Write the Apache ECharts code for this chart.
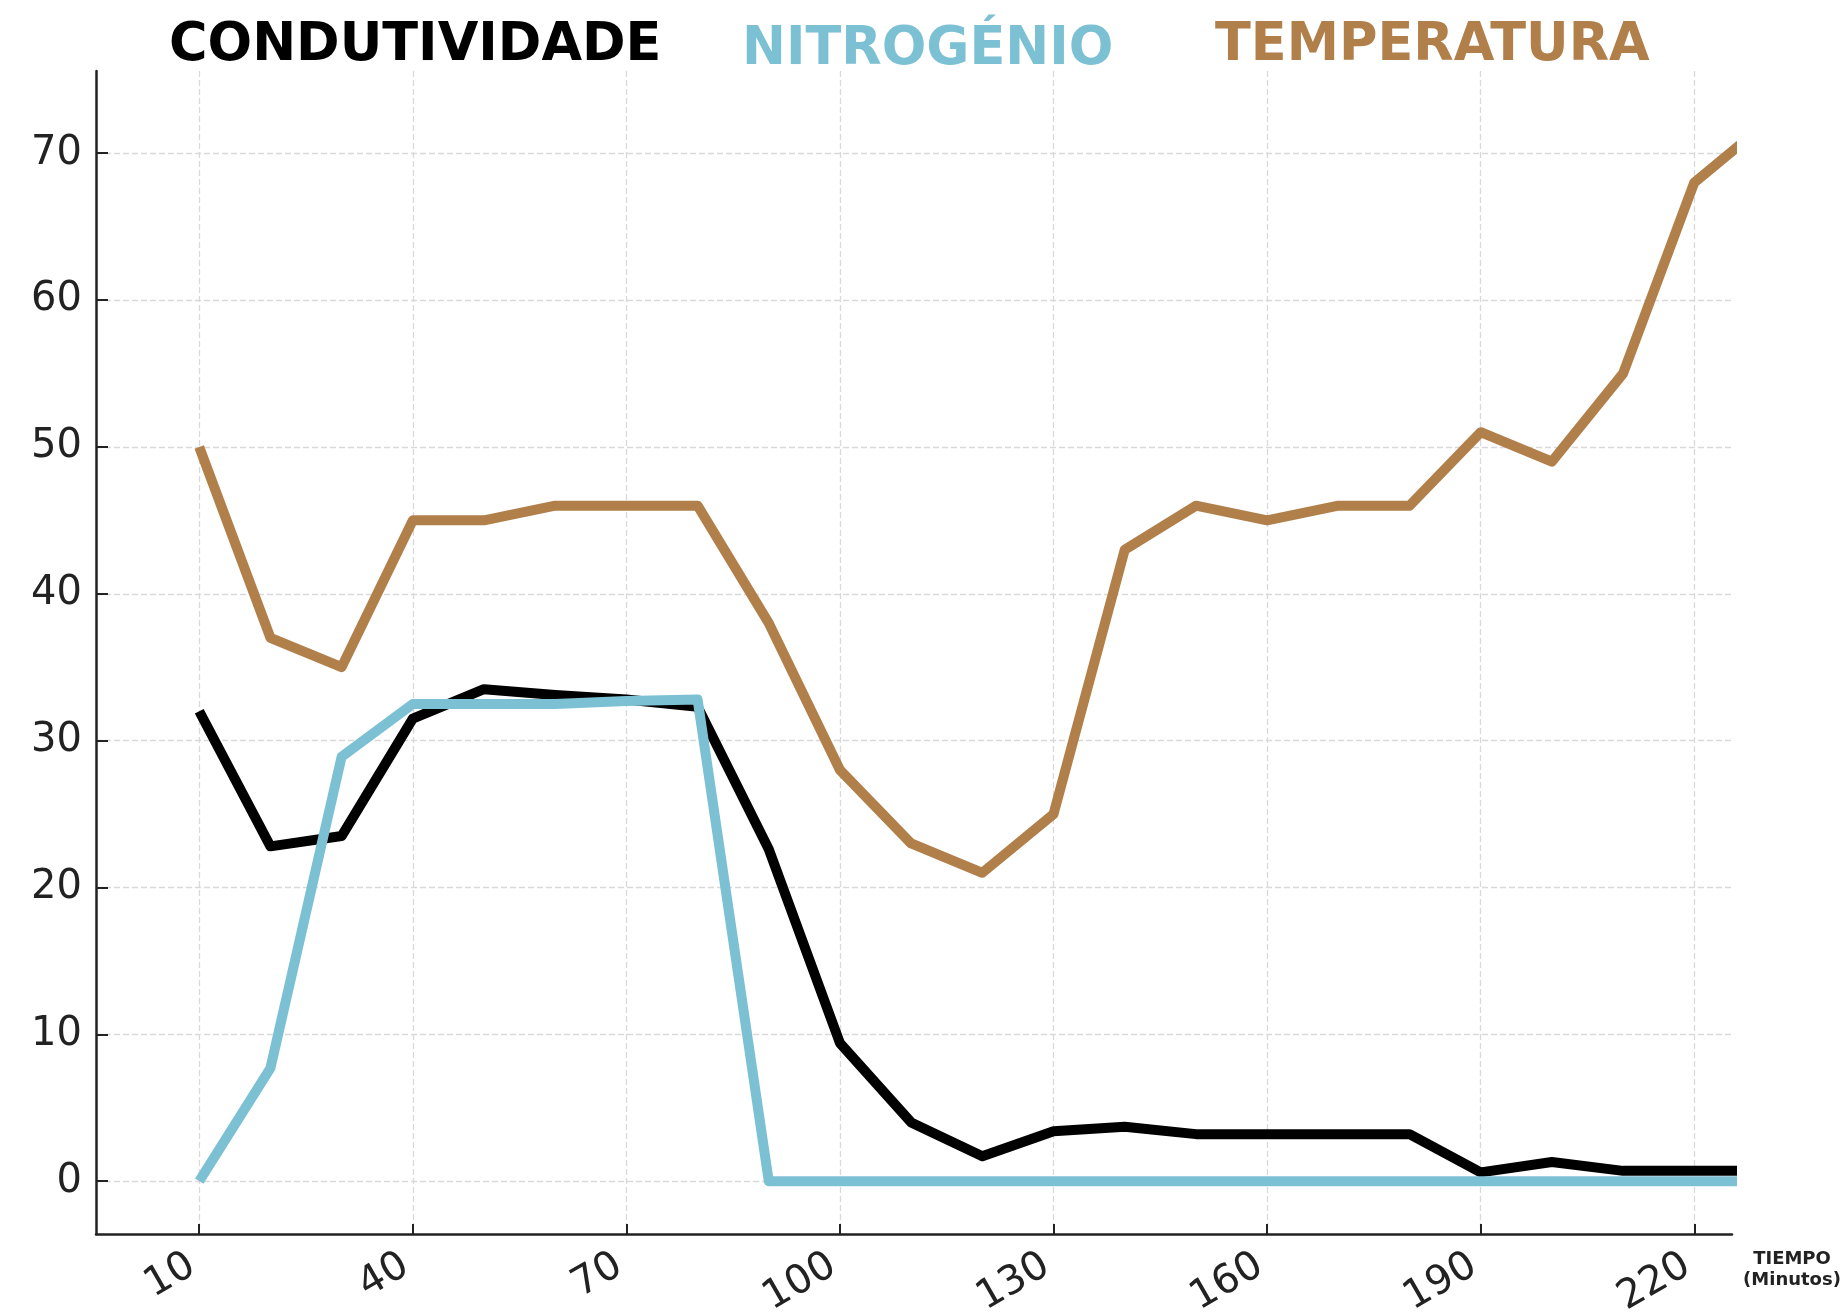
<!DOCTYPE html>
<html><head><meta charset="utf-8">
<script src="https://cdn.jsdelivr.net/npm/echarts@6/dist/echarts.min.js"></script>
<style>html,body{margin:0;padding:0;background:#fff}#c{width:1845px;height:1315px}</style>
</head><body><div id="c"></div>
<script>
const tiempo = [10,20,30,40,50,60,70,80,90,100,110,120,130,140,150,160,170,180,190,200,210,220,230];
const condutividade = [32,22.8,23.5,31.5,33.5,33.1,32.8,32.3,22.6,9.4,4.0,1.7,3.4,3.7,3.2,3.2,3.2,3.2,0.6,1.3,0.7,0.7,0.7];
const nitrogenio = [0,7.7,28.9,32.5,32.5,32.5,32.7,32.8,0,0,0,0,0,0,0,0,0,0,0,0,0,0,0];
const temperatura = [50,37,35,45,45,46,46,46,38,28,23,21,25,43,46,45,46,46,51,49,55,68,72];
const xTicks = [10,40,70,100,130,160,190,220];
const yTicks = [0,10,20,30,40,50,60,70];
const names = ['CONDUTIVIDADE','NITROGÉNIO','TEMPERATURA'];
const colors = ['#000000','#7cc1d3','#b17f4a'];
const xName = 'TIEMPO\n(Minutos)';

const valuesList = [condutividade, nitrogenio, temperatura];
const chart = echarts.init(document.getElementById('c'), null, {renderer:'canvas'});
const legendPos = [{left:164, top:20},{left:737, top:24},{left:1210, top:20}];
const option = {
  backgroundColor:'#ffffff',
  animation:false,
  legend: names.map((n,i)=>({
    data:[n], left:legendPos[i].left, top:legendPos[i].top, padding:0,
    icon:'none', itemWidth:0, itemHeight:10,
    textStyle:{fontFamily:'DejaVu Sans', fontWeight:'bold', fontSize:52.5, color:colors[i], lineHeight:52}
  })),
  grid:{left:96, right:113, top:71, bottom:81, containLabel:false, outerBoundsMode:'none'},
  xAxis:{
    type:'value', min:-4.5, max:225.3,
    name:xName, nameLocation:'end', nameGap:60,
    nameTextStyle:{fontFamily:'DejaVu Sans', fontWeight:'bold', fontSize:18, color:'#222', align:'center', verticalAlign:'top', lineHeight:21, padding:[15,0,0,0]},
    axisLine:{show:true, onZero:false, lineStyle:{color:'#222', width:2.5}},
    axisTick:{show:true, inside:true, length:10, customValues:xTicks, lineStyle:{color:'#222', width:2}},
    axisLabel:{customValues:xTicks, rotate:30, margin:25, padding:[0,8,0,0], fontFamily:'DejaVu Sans', fontSize:40, color:'#222'},
    splitLine:{show:true, lineStyle:{color:'#d9d9d9', width:1.3, type:[6,3]}}
  },
  yAxis:{
    type:'value', min:-3.6, max:75.6,
    axisLine:{show:true, onZero:false, lineStyle:{color:'#222', width:2.5}},
    axisTick:{show:true, inside:true, length:12, customValues:yTicks, lineStyle:{color:'#222', width:2}},
    axisLabel:{customValues:yTicks, margin:14, fontFamily:'DejaVu Sans', fontSize:40, color:'#222'},
    splitLine:{show:true, lineStyle:{color:'#d9d9d9', width:1.3, type:[6,3]}}
  },
  series: names.map((n,i)=>({
    name:n, type:'line', symbol:'none', clip:true,
    data: tiempo.map((t,k)=>[t, valuesList[i][k]]),
    lineStyle:{color:colors[i], width:10, join:'round', cap:'butt'},
    itemStyle:{color:colors[i]},
    z: 2+i
  }))
};
chart.setOption(option);
</script></body></html>
